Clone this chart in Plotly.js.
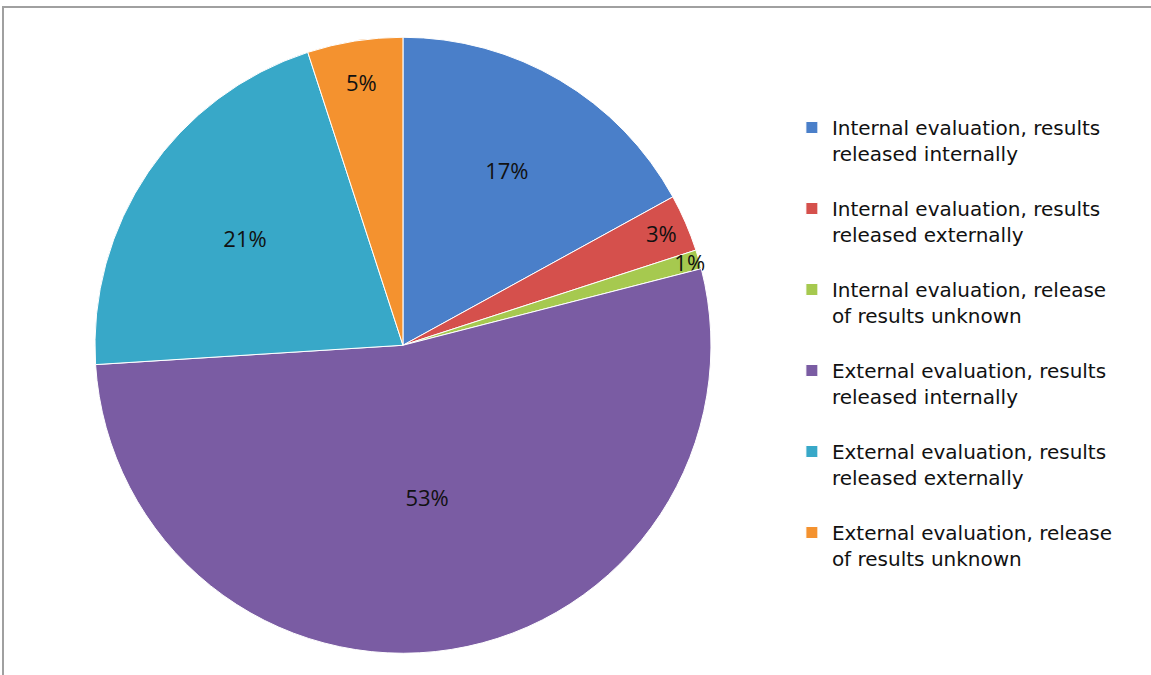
<!DOCTYPE html>
<html>
<head>
<meta charset="utf-8">
<script src="https://cdn.plot.ly/plotly-3.0.1.min.js"></script>
<style>html,body{margin:0;padding:0;background:#fff;}#chart{width:1151px;height:675px;}</style>
</head>
<body>
<div id="chart"></div>
<script>
const categories = [
  "Internal evaluation, results<br>released internally<br> ",
  "Internal evaluation, results<br>released externally<br> ",
  "Internal evaluation, release<br>of results unknown<br> ",
  "External evaluation, results<br>released internally<br> ",
  "External evaluation, results<br>released externally<br> ",
  "External evaluation, release<br>of results unknown"
];
const values = [17, 3, 1, 53, 21, 5];
const colors = ["#4A7FC9", "#D5504C", "#A6C94F", "#7A5CA3", "#38A8C8", "#F4922F"];

const trace = {
  type: "pie",
  labels: categories,
  values: values,
  sort: false,
  direction: "clockwise",
  rotation: 0,
  marker: {colors: colors, line: {color: "#ffffff", width: 1}},
  textinfo: "percent",
  textposition: "inside",
  insidetextorientation: "horizontal",
  textfont: {family: "Open Sans, Arial, sans-serif", size: 22, color: "#111111"},
  domain: {x: [0.0825, 0.6177], y: [0.032, 0.945]},
  hoverinfo: "label+percent"
};

const layout = {
  width: 1151, height: 675,
  margin: {l: 0, r: 0, t: 0, b: 0},
  paper_bgcolor: "#ffffff",
  showlegend: true,
  uniformtext: {mode: "show", minsize: 22},
  legend: {
    x: 0.688, y: 0.84, xanchor: "left", yanchor: "top",
    valign: "top",
    font: {family: "DejaVu Sans, Arial, sans-serif", size: 20, color: "#111111"},
    itemwidth: 30,
    tracegroupgap: 0
  },
  shapes: [{
    type: "rect", xref: "paper", yref: "paper",
    x0: 3/1151, x1: 1.01, y0: -0.01, y1: 1 - 7/675,
    line: {color: "#A0A0A0", width: 2}, fillcolor: "rgba(0,0,0,0)", layer: "below"
  }]
};

Plotly.newPlot("chart", [trace], layout, {displayModeBar: false, staticPlot: true});
</script>
</body>
</html>
